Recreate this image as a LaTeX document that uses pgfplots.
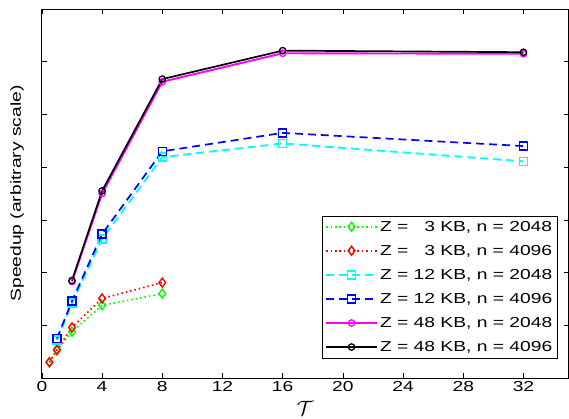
\documentclass[border=0pt]{standalone}
\usepackage{pgfplots}
\pgfplotsset{compat=1.18}
\usepackage{fontspec}
\setmainfont{Liberation Sans}[FakeStretch=1.33]

\definecolor{mgreen}{rgb}{0,1,0}
\definecolor{mred}{rgb}{1,0,0}
\definecolor{mcyan}{rgb}{0,1,1}
\definecolor{mblue}{rgb}{0,0,1}
\definecolor{mmag}{rgb}{1,0,1}

\begin{document}
\begin{tikzpicture}
\begin{axis}[
  name=ax,
  scale only axis,
  width=528pt, height=370pt,
  xmin=0, xmax=35, ymin=0, ymax=7,
  xtick={0,4,...,32},
  ytick={0,1,...,7}, yticklabels={},
  tick align=inside,
  major tick length=5pt,
  tick style={black, line width=0.6pt},
  axis line style={line width=0.8pt},
  /pgf/number format/assume math mode=true,
  tick label style={font=\fontsize{14.5}{16}\selectfont},
  ylabel={Speedup (arbitrary scale)},
  ylabel style={font=\fontsize{14.5}{16}\selectfont, at={(axis description cs:-0.047,0.5)}, anchor=center},
  xlabel={\fontsize{22}{26}\selectfont $\mathcal{T}$},
  xlabel style={at={(axis description cs:0.5,0)}, anchor=north, yshift=-20pt},
  legend style={at={(axis description cs:0.979,0.054)}, anchor=south east,
    draw=black, line width=0.6pt, fill=white,
    font=\fontsize{14.5}{16}\selectfont, row sep=8.5pt, inner sep=3pt},
  legend cell align=left,
  legend image code/.code={\draw[mark repeat=2,mark phase=2,#1] plot coordinates {(0cm,0cm) (0.9cm,0cm) (1.8cm,0cm)};},
]
\addplot[color=mgreen, line width=1.7pt, dash pattern=on 1.5pt off 3pt, mark=diamond, mark size=4.5pt, mark options={solid, line width=1.4pt}] coordinates {
  (0.5,0.30)(1,0.52)(2,0.88)(4,1.38)(8,1.60)
};
\addlegendentry{Z =\hspace{1.1em}3 KB, n = 2048}
\addplot[color=mred, line width=1.7pt, dash pattern=on 1.5pt off 3pt, mark=diamond, mark size=4.5pt, mark options={solid, line width=1.4pt}] coordinates {
  (0.5,0.30)(1,0.54)(2,0.96)(4,1.51)(8,1.81)
};
\addlegendentry{Z =\hspace{1.1em}3 KB, n = 4096}
\addplot[color=mcyan, line width=1.9pt, dash pattern=on 8pt off 5pt, mark=square, mark size=4pt, mark options={solid, line width=1.4pt}] coordinates {
  (1,0.72)(2,1.42)(4,2.64)(8,4.19)(16,4.45)(32,4.11)
};
\addlegendentry{Z = 12 KB, n = 2048}
\addplot[color=mblue, line width=1.7pt, dash pattern=on 8pt off 5pt, mark=square, mark size=4pt, mark options={solid, line width=1.4pt}] coordinates {
  (1,0.75)(2,1.46)(4,2.73)(8,4.30)(16,4.65)(32,4.40)
};
\addlegendentry{Z = 12 KB, n = 4096}
\addplot[color=mmag, line width=1.9pt, solid, mark=o, mark size=3.2pt, mark options={solid, line width=1.3pt}] coordinates {
  (2,1.83)(4,3.50)(8,5.62)(16,6.16)(32,6.15)
};
\addlegendentry{Z = 48 KB, n = 2048}
\addplot[color=black, line width=1.7pt, solid, mark=o, mark size=3.2pt, mark options={solid, line width=1.3pt}] coordinates {
  (2,1.85)(4,3.55)(8,5.67)(16,6.21)(32,6.18)
};
\addlegendentry{Z = 48 KB, n = 4096}
\end{axis}
\path ([shift={(-42pt,9pt)}]ax.north west -| ax.west);
\end{tikzpicture}
\end{document}
